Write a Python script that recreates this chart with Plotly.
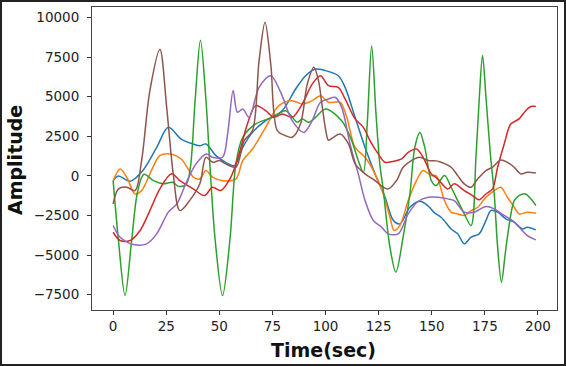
import plotly.graph_objects as go

# ---- data ----
blue_t = [0, 2.5, 8, 14, 20.5, 26, 32, 37.6, 40.8, 43.7, 48.4, 53, 57, 61, 65.6, 71.8, 79.6, 85.9, 90.6, 95.3,
          100, 106, 109.2, 113.9, 118.6, 123.3, 128, 131.9, 135, 139.7, 144.4, 148.3, 151, 154.4, 159.1, 162.2,
          165.3, 168.5, 172.3, 175.5, 177.8, 181, 184.9, 188.8, 192.7, 195, 199]
blue_v = [-300, 0, -340, 340, 1800, 3070, 2330, 2020, 1900, 2020, 1280, 860, 650, 1800, 2750, 3490, 4120, 5490, 6330, 6750,
          6650, 6330, 5590, 3700, 1800, 130, -1350, -2820, -3030, -1980, -1600, -1900, -2300, -2610, -3350, -3660,
          -4290, -3870, -3660, -2820, -2190, -2290, -2710, -2920, -3350, -3240, -3410]

orange_t = [0, 3.3, 6.4, 10.3, 13.4, 18, 22, 26.7, 32, 35.3, 37.7, 40.8, 43.7, 46.8, 51.5, 57.8, 61, 65.6, 71.8, 78,
            84.3, 89, 93.7, 97.6, 101.4, 106.9, 110, 113.9, 118.6, 122.5, 127.2, 130.3, 132.3, 135, 138.9, 142.8,
            145.9, 149.8, 152, 156, 159.1, 162.2, 165.3, 168.5, 171.6, 175.5, 179.4, 182.5, 185.6, 188.8, 191.1,
            195, 199]
orange_v = [-300, 440, -80, -1140, -930, 340, 1280, 1390, 1070, 440, -80, -190, 340, -80, -300, -190, 970, 1700, 3070, 4440,
            4750, 4540, 4750, 5070, 4650, 4650, 3700, 1800, 1180, 340, -1140, -2610, -3450, -3130, -1560, -300,
            340, 20, 20, -1560, -2290, -2400, -2500, -2190, -1980, -1350, -925, -715, -1350, -1980, -2400,
            -2290, -2360]

green_t = [0, 2.5, 5.6, 8.7, 11.5, 14.5, 19, 23.6, 28, 31, 34.5, 36.4, 38.6, 41.1, 43.7, 45.6, 48, 51.5, 55, 57.8,
           61, 67.1, 75, 81.2, 86.7, 89, 92.1, 95.3, 100, 107.6, 112.3, 115.4, 117.8, 119.7, 121.7, 123.7, 125.5,
           127.2, 130.3, 133.1, 136.5, 139.7, 142, 144.4, 146.7, 149.8, 152, 156, 159.1, 162.2, 165.3, 168.5,
           170.8, 172.4, 173.9, 175.5, 177.5, 179.4, 181, 182.8, 184.5, 185.6, 188.8, 191.1, 194.2, 196.6, 199]
green_v = [-300, -4080, -7550, -4080, -1000, 100, -300, -500, -400, -670, -500, 570, 4780, 8570, 4780, 570, -4000, -7560, -4000, 760,
           2440, 3280, 3700, 4120, 3390, 3600, 3390, 3700, 4230, 3490, 2230, 970, 230, 3500, 8230, 4000, 800,
           -925, -4500, -6080, -3870, -1140, 1800, 2750, 1800, -300, -610, 20, -715, -1560, -2400, -3130,
           1180, 5000, 7600, 5000, 1500, -1140, -4500, -6710, -5000, -3870, -1560, -1240, -1140, -1450, -1870]

red_t = [0, 3.3, 8, 12.7, 17.3, 22, 27.5, 31.4, 37.7, 43, 46.8, 50.7, 55.4, 59.3, 63.2, 67.1, 71.8, 75.7, 79.6, 84.3,
         89, 93.7, 97.6, 101.4, 106, 109.2, 113.9, 117.8, 120.9, 124.8, 128, 131.9, 135.8, 138.9, 142.8, 145.9,
         149.8, 152.8, 157.5, 160.6, 165.3, 169.2, 172.3, 175.5, 178.6, 181, 184.1, 187.2, 191.1, 194.2, 196.6, 199]
red_v = [-3560, -4080, -4080, -3450, -2190, -820, 130, -300, -820, -1240, -715, -925, -80, 1390, 3280, 4440, 4120, 3700, 3910, 3700,
         4540, 5800, 6330, 5700, 5590, 4860, 3600, 3070, 2230, 1390, 860, 920, 1070, 1490, 1700, 1180,
         130, -190, -820, -500, -925, -1240, -1510, -1140, -820, 550, 2020, 3280, 3600, 4120, 4380, 4380]

purple_t = [0, 3.3, 9.5, 15.8, 20.5, 26, 30, 34.5, 39, 43.9, 46.8, 51.5, 53.9, 56.5, 58.5, 61, 64, 68.7, 74.2, 78.9,
            84.3, 89.8, 93.7, 97.6, 101.4, 104.5, 107.6, 111.5, 115.4, 118.6, 122.5, 126.4, 129.5, 134.2, 138.9,
            143.6, 148.3, 152.8, 157.5, 160.6, 165.3, 170, 175.5, 179.4, 184.1, 188, 191.9, 195, 199]
purple_v = [-3130, -3870, -4330, -4290, -3660, -2290, -1770, -400, 760, 1390, 1180, 1180, 2650, 5390, 4020, 4230, 3700, 5590, 6330, 5280,
            3490, 2750, 3490, 4650, 4860, 4970, 4330, 2020, 130, -1560, -2820, -3240, -3660, -3660, -2400,
            -1600, -1350, -1350, -1450, -1560, -2290, -2290, -1930, -2080, -2500, -2820, -3350, -3770, -4040]

brown_t = [0, 2.5, 6.4, 10.3, 13.4, 17.3, 22, 25.2, 28.3, 31.4, 36, 40.8, 43.7, 46.8, 50, 53, 57.8, 61.7, 65.6, 68.7,
           71.5, 74.2, 77.3, 81.2, 84.3, 88.2, 91.4, 94.5, 96.7, 98.3, 100.2, 101.4, 103.7, 106.9, 110.8, 113.9,
           118.6, 123.3, 127.2, 129.5, 133.4, 136.5, 140.4, 144.4, 148.3, 152, 154.4, 159.1, 162.2, 165.3, 168.5,
           171.6, 175.5, 178.6, 182.5, 185.6, 188.8, 191.9, 195, 199]
brown_v = [-1770, -820, -715, -925, 970, 5390, 8000, 4330, 130, -2190, -1560, -500, 1180, 860, 970, 760, 550, 2230, 2860, 7280,
           9700, 7070, 2860, 2540, 2440, 3280, 5800, 6860, 6000, 4500, 2800, 2250, 2440, 2650, 2020, 760,
           130, -300, -715, -820, -300, 550, 970, 1180, 970, 950, 860, 550, 20, -500, -715,
           -190, 340, 550, 1010, 860, 550, 130, 230, 190]

x_ticks = [0, 25, 50, 75, 100, 125, 150, 175, 200]
y_ticks = [-7500, -5000, -2500, 0, 2500, 5000, 7500, 10000]
y_tick_text = ["\u22127500", "\u22125000", "\u22122500", "0", "2500", "5000", "7500", "10000"]
x_title = "Time(sec)"
y_title = "Amplitude"

series = [
    (blue_t, blue_v, "#1f77b4"),
    (orange_t, orange_v, "#ff7f0e"),
    (green_t, green_v, "#2ca02c"),
    (red_t, red_v, "#d62728"),
    (purple_t, purple_v, "#9467bd"),
    (brown_t, brown_v, "#8c564b"),
]

fig = go.Figure()
for t, v, c in series:
    fig.add_trace(go.Scatter(x=t, y=v, mode="lines",
                             line=dict(color=c, width=1.5, shape="spline", smoothing=0.9),
                             showlegend=False, hoverinfo="skip"))

# plot area in pixels
L, R, T, B = 92, 557, 7, 310
W, H = 566, 366
pw, ph = R - L, B - T

font_family = "DejaVu Sans"
fig.update_layout(
    width=W, height=H,
    margin=dict(l=L, r=W - R, t=T, b=H - B, autoexpand=False),
    paper_bgcolor="white", plot_bgcolor="white",
    font=dict(family=font_family, size=13.5, color="#222"),
    showlegend=False,
)
fig.update_xaxes(
    range=[-9.95, 208.95], tickvals=x_ticks, ticks="outside", ticklen=4, tickwidth=1, tickcolor="#333",
    showline=True, linecolor="#444", linewidth=1, mirror=True, showgrid=False, zeroline=False,
    tickfont=dict(size=13.5, color="#222"), automargin=False,
)
fig.update_yaxes(
    range=[-8470, 10670], tickvals=y_ticks, ticktext=y_tick_text, ticks="outside", ticklen=4, tickwidth=1,
    tickcolor="#333", showline=True, linecolor="#444", linewidth=1, mirror=True, showgrid=False, zeroline=False,
    tickfont=dict(size=13.5, color="#222"), automargin=False, ticklabelstandoff=5,
)
# axis titles placed as annotations
fig.add_annotation(text=x_title, xref="paper", yref="paper", x=(323 - L) / pw, y=(B - 350) / ph,
                   showarrow=False, xanchor="center", yanchor="middle",
                   font=dict(family=font_family, size=19, weight="bold", color="#111"))
fig.add_annotation(text=y_title, xref="paper", yref="paper", x=(15 - L) / pw, y=(B - 160) / ph,
                   showarrow=False, xanchor="center", yanchor="middle", textangle=-90,
                   font=dict(family=font_family, size=19, weight="bold", color="#111"))
# outer frame around the whole image
fig.add_shape(type="rect", xref="paper", yref="paper",
              x0=(1 - L) / pw, x1=(565 - L) / pw, y0=(B - 365) / ph, y1=(B - 1) / ph,
              line=dict(color="#222", width=2), fillcolor="rgba(0,0,0,0)", layer="above")

fig.write_html("out.html", config={"displayModeBar": False},
               post_script="document.body.style.margin='0';document.body.style.overflow='hidden';")
